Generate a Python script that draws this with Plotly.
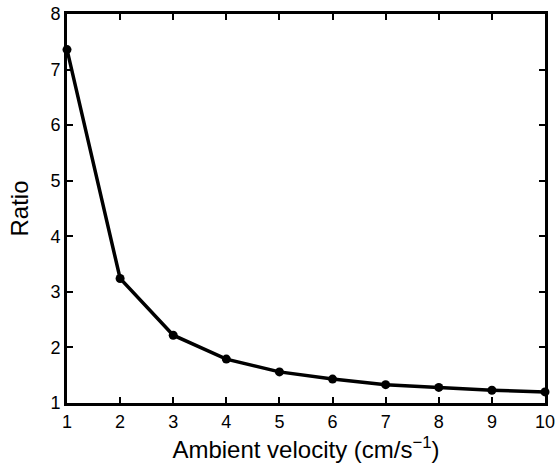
import plotly.graph_objects as go

velocity = [1, 2, 3, 4, 5, 6, 7, 8, 9, 10]
ratio = [7.36, 3.24, 2.22, 1.79, 1.56, 1.43, 1.33, 1.28, 1.23, 1.20]
x_ticks = [1, 2, 3, 4, 5, 6, 7, 8, 9, 10]
y_ticks = [1, 2, 3, 4, 5, 6, 7, 8]

FONT = "Liberation Sans"

fig = go.Figure()
fig.add_trace(go.Scatter(
    x=velocity, y=ratio, mode="lines+markers",
    line=dict(color="black", width=3.5),
    marker=dict(color="black", size=9),
    cliponaxis=False,
))

axis_common = dict(
    showline=True, linecolor="black", linewidth=3, mirror="ticks",
    ticks="inside", ticklen=6, tickwidth=1.5, tickcolor="black",
    showgrid=False, zeroline=False, automargin=False,
    tickfont=dict(family=FONT, size=18, color="black"),
)

fig.update_layout(
    width=559, height=463,
    margin=dict(l=67, r=14, t=14, b=60, autoexpand=False),
    paper_bgcolor="white", plot_bgcolor="white",
    showlegend=False,
    font=dict(family=FONT, color="black", size=18),
    xaxis=dict(range=[1, 10], tickvals=x_ticks,
               title=dict(text="Ambient velocity (cm/s<sup>−1</sup>)", font=dict(family=FONT, size=24, color="black")),
               **axis_common),
    yaxis=dict(range=[1, 8], tickvals=y_ticks,
               title=dict(text="Ratio", font=dict(family=FONT, size=24, color="black")),
               **axis_common),
)

fig.write_html(
    "out.html",
    config={"displayModeBar": False},
    post_script="document.body.style.margin='0';document.body.style.overflow='hidden';",
)
